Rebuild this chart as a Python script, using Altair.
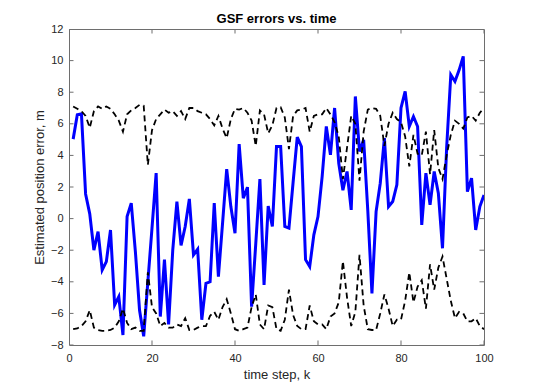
import altair as alt
import pandas as pd

# ---------------- data ----------------
steps = list(range(1, 101))

gsf_error = [
    5.03, 6.57, 6.63, 1.56, 0.3, -2.0, -0.82, -3.25, -2.72, -0.72,
    -5.47, -4.94, -7.37, 0.13, 0.98, -2.1, -5.8, -7.45, -4.0, -0.6,
    2.88, -6.2, -2.6, -6.7, -2.0, 1.08, -1.7, -0.5, 1.25, -2.3,
    -1.94, -6.4, -4.1, -4.0, 0.98, -3.67, -0.3, 3.13, 0.76, -0.93,
    4.71, 1.29, 1.99, -5.58, -1.6, 2.5, -4.2, 0.8, -0.5, 4.56,
    4.56, -0.5, -0.6, 2.3, 5.16, 4.56, -2.6, -3.04, -1.03, 0.13,
    2.66, 5.83, 4.04, 7.0, 3.5, 1.8, 2.98, 0.55, 7.73, 4.25,
    4.99, 0.5, -4.73, 0.44, 2.24, 5.1, 0.76, 1.08, 2.14, 7.0,
    8.05, 5.83, 6.46, 5.83, -0.4, 2.88, 0.87, 2.98, 1.61, -1.88,
    4.5, 9.1, 8.68, 9.4, 10.27, 1.71, 2.56, -0.72, 0.76, 1.5,
]

upper_bound = [
    7.1, 6.95, 6.8, 6.5, 5.75, 6.8, 7.1, 6.95, 7.1, 6.95,
    6.6, 6.2, 5.5, 6.6, 6.85, 7.0, 7.2, 7.15, 3.4, 5.6,
    6.3, 6.6, 6.9, 6.7, 6.8, 6.5, 6.8, 6.3, 7.0, 7.0,
    6.8, 6.7, 6.6, 6.3, 5.9, 6.5, 5.7, 5.1, 6.3, 6.95,
    6.9, 7.0, 6.7, 6.2, 4.6, 6.85, 6.6, 5.4, 5.9, 7.0,
    7.05, 6.4, 4.4, 6.5, 6.85, 6.9, 7.0, 5.5, 6.5, 6.6,
    6.6, 7.0, 6.6, 6.1, 5.2, 2.5, 4.5, 6.5, 6.0, 2.4,
    5.5, 6.9, 7.0, 6.95, 6.5, 4.6, 6.0, 6.7, 6.3, 6.1,
    5.2, 3.3, 5.3, 4.1, 4.0, 5.5, 2.8, 5.6, 3.2, 2.5,
    4.0, 5.3, 6.2, 6.0, 5.7, 6.4, 6.5, 6.2, 6.7, 7.0,
]

lower_bound = [
    -7.0, -6.95, -6.8, -6.5, -5.8, -6.9, -7.05, -7.1, -7.1, -7.05,
    -6.9, -6.5, -5.7, -6.6, -7.0, -6.9, -7.1, -7.1, -3.4, -5.6,
    -6.0, -6.8, -6.6, -6.9, -6.9, -6.7, -6.8, -6.3, -7.05, -7.05,
    -6.9, -6.8, -6.8, -6.15, -5.9, -6.4, -5.6, -5.1, -6.0, -7.0,
    -7.1, -7.0, -6.9, -5.6, -4.8, -6.7, -7.0, -5.5, -5.6, -7.0,
    -7.1, -6.4, -4.5, -6.1, -6.8, -7.0, -7.0, -5.5, -6.5, -6.7,
    -6.7, -7.0, -6.2, -6.0, -5.3, -2.7, -5.0, -6.8, -5.9, -2.3,
    -5.5, -7.0, -7.05, -7.05, -6.0, -4.8, -5.7, -6.8, -6.4, -6.4,
    -5.2, -3.4, -5.3, -4.3, -3.9, -5.7, -2.9, -4.5, -3.1, -2.4,
    -3.8, -5.2, -6.3, -5.9, -6.0, -6.5, -6.5, -6.3, -6.8, -7.0,
]

x_ticks = [0, 20, 40, 60, 80, 100]
y_ticks = [-8, -6, -4, -2, 0, 2, 4, 6, 8, 10, 12]
x_domain = [0, 100]
y_domain = [-8, 12]

title_text = "GSF errors vs. time"
x_title = "time step, k"
y_title = "Estimated position error, m"

# ---------------- chart ----------------
FONT = "Liberation Sans"
FRAME = "#6e6e6e"

df = pd.DataFrame({"k": steps, "err": gsf_error, "up": upper_bound, "lo": lower_bound})
df_xt = pd.DataFrame({"t": x_ticks})
df_yt = pd.DataFrame({"t": y_ticks})

xs = alt.Scale(domain=x_domain, nice=False, zero=False)
ys = alt.Scale(domain=y_domain, nice=False, zero=False)

x_axis = alt.Axis(values=x_ticks, title=x_title, ticks=False, domain=False, grid=False,
                  labelPadding=7, titlePadding=5, labelFontSize=11, titleFontSize=13,
                  labelFont=FONT, titleFont=FONT, labelColor="#262626", titleColor="#262626",
                  titleFontWeight="normal", labelFlush=False, labelOverlap=False)
y_axis = alt.Axis(values=y_ticks, title=y_title, ticks=False, domain=False, grid=False,
                  labelPadding=6, titlePadding=4, labelFontSize=11, titleFontSize=13,
                  labelFont=FONT, titleFont=FONT, labelColor="#262626", titleColor="#262626",
                  titleFontWeight="normal", labelFlush=False, labelOverlap=False)

def X(field):
    return alt.X(field, type="quantitative", scale=xs, axis=x_axis)

def Y(field):
    return alt.Y(field, type="quantitative", scale=ys, axis=y_axis)

err_line = alt.Chart(df).mark_line(color="#0000ff", strokeWidth=3, clip=True).encode(
    x=X("k"), y=Y("err"))
up_line = alt.Chart(df).mark_line(color="black", strokeWidth=1.8, strokeDash=[6, 4], clip=True).encode(
    x=X("k"), y=Y("up"))
lo_line = alt.Chart(df).mark_line(color="black", strokeWidth=1.8, strokeDash=[6, 4], clip=True).encode(
    x=X("k"), y=Y("lo"))

tick_style = dict(size=9, thickness=1, color=FRAME, clip=True, opacity=1)
xt_bottom = alt.Chart(df_xt).mark_tick(orient="vertical", **tick_style).encode(
    x=X("t"), y=alt.YDatum(y_domain[0], scale=ys, axis=y_axis))
xt_top = alt.Chart(df_xt).mark_tick(orient="vertical", **tick_style).encode(
    x=X("t"), y=alt.YDatum(y_domain[1], scale=ys, axis=y_axis))
yt_left = alt.Chart(df_yt).mark_tick(orient="horizontal", **tick_style).encode(
    y=Y("t"), x=alt.XDatum(x_domain[0], scale=xs, axis=x_axis))
yt_right = alt.Chart(df_yt).mark_tick(orient="horizontal", **tick_style).encode(
    y=Y("t"), x=alt.XDatum(x_domain[1], scale=xs, axis=x_axis))

chart = alt.layer(err_line, up_line, lo_line, xt_bottom, xt_top, yt_left, yt_right).properties(
    width=415,
    height=316,
    title=alt.TitleParams(title_text, fontSize=13, fontWeight="bold", font=FONT,
                          color="black", offset=5, dy=8, anchor="middle"),
    autosize=alt.AutoSizeParams(type="none"),
    padding={"left": 61, "top": 21, "right": 30, "bottom": 45},
    background="white",
).configure_view(stroke=FRAME, strokeWidth=1).configure_axis(labelOverlap=False)

chart.save("out.html", embed_options={"renderer": "svg", "actions": False})
